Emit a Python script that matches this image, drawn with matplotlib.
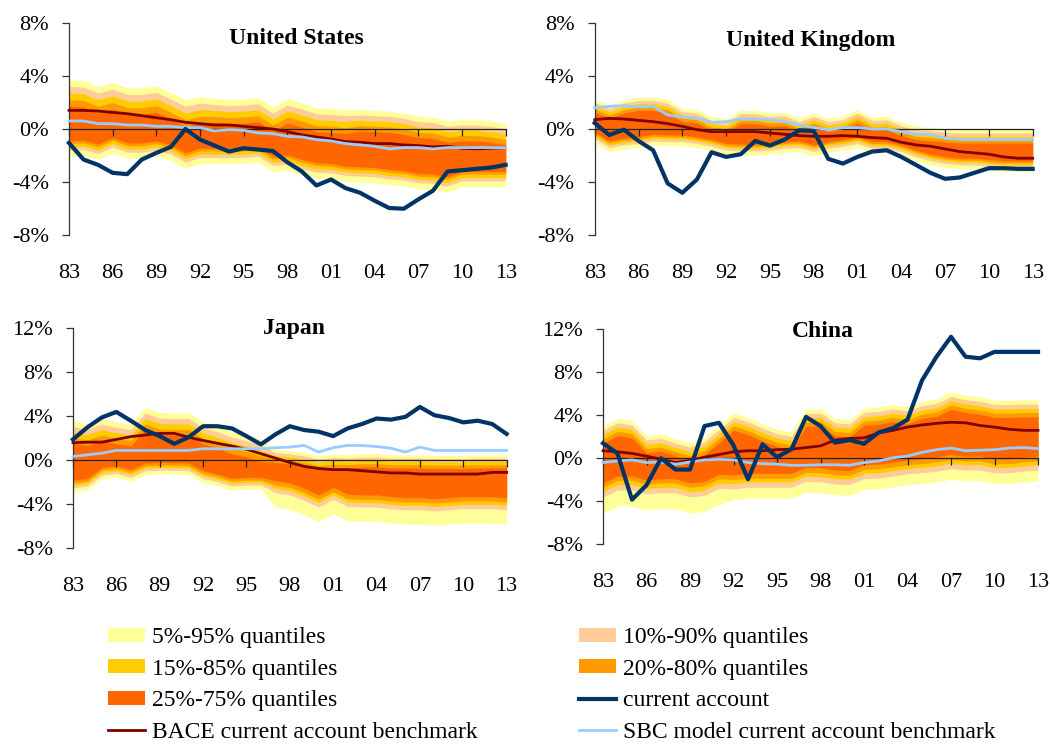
import matplotlib
matplotlib.use("Agg")
import matplotlib.pyplot as plt
from matplotlib.patches import Patch
from matplotlib.lines import Line2D
from matplotlib.ticker import FuncFormatter

plt.rcParams["font.family"] = ["Liberation Serif", "DejaVu Serif"]

# YEARS AND TICKS

years = list(range(1983, 2014))
xtick_years = list(range(1983, 2014, 3))
xtick_labels = ["83", "86", "89", "92", "95", "98", "01", "04", "07", "10", "13"]

# UNITED STATES (% of GDP)

us_ca = [-1.05, -2.3, -2.7, -3.3, -3.4, -2.3, -1.8, -1.35, 0.0, -0.8,
         -1.25, -1.7, -1.45, -1.55, -1.65, -2.5, -3.2, -4.25, -3.8, -4.45,
         -4.8, -5.4, -5.95, -6.0, -5.3, -4.65, -3.2, -3.1, -3.0, -2.9, -2.7]
us_bace = [1.4, 1.4, 1.35, 1.25, 1.15, 1.0, 0.85, 0.7, 0.5, 0.4,
           0.3, 0.3, 0.2, 0.1, 0.0, -0.2, -0.45, -0.6, -0.75, -0.95,
           -1.0, -1.1, -1.1, -1.2, -1.25, -1.35, -1.3, -1.45, -1.5, -1.45, -1.4]
us_sbc = [0.6, 0.6, 0.4, 0.4, 0.3, 0.3, 0.2, 0.2, 0.1, 0.1,
          -0.15, -0.05, -0.1, -0.3, -0.35, -0.55, -0.6, -0.8, -0.9, -1.1,
          -1.2, -1.3, -1.5, -1.4, -1.4, -1.5, -1.4, -1.4, -1.4, -1.4, -1.4]
us_q95 = [3.7, 3.65, 3.2, 3.5, 3.1, 3.1, 3.25, 2.75, 2.2, 2.45,
          2.3, 2.2, 2.25, 2.35, 1.65, 2.25, 1.95, 1.6, 1.55, 1.45,
          1.45, 1.4, 1.35, 1.2, 0.95, 0.9, 0.6, 0.7, 0.7, 0.6, 0.4]
us_q90 = [3.2, 3.15, 2.7, 3.0, 2.6, 2.6, 2.75, 2.25, 1.7, 1.95,
          1.85, 1.75, 1.8, 1.9, 1.2, 1.8, 1.5, 1.15, 1.1, 1.0,
          1.05, 1.0, 0.95, 0.8, 0.55, 0.5, 0.2, 0.3, 0.3, 0.2, 0.0]
us_q85 = [2.7, 2.65, 2.2, 2.5, 2.1, 2.1, 2.25, 1.75, 1.2, 1.45,
          1.4, 1.3, 1.35, 1.45, 0.75, 1.35, 1.05, 0.7, 0.65, 0.55,
          0.65, 0.6, 0.55, 0.4, 0.15, 0.1, -0.2, -0.1, -0.1, -0.2, -0.4]
us_q80 = [2.2, 2.15, 1.7, 2.0, 1.6, 1.6, 1.75, 1.25, 0.7, 0.95,
          0.95, 0.85, 0.9, 1.0, 0.3, 0.9, 0.6, 0.25, 0.2, 0.1,
          0.25, 0.2, 0.15, 0.0, -0.25, -0.3, -0.6, -0.5, -0.5, -0.6, -0.8]
us_q75 = [1.7, 1.65, 1.2, 1.5, 1.1, 1.1, 1.25, 0.75, 0.2, 0.45,
          0.5, 0.4, 0.45, 0.55, -0.15, 0.45, 0.15, -0.2, -0.25, -0.35,
          -0.15, -0.2, -0.25, -0.4, -0.65, -0.7, -1.0, -0.9, -0.9, -1.0, -1.2]
us_q25 = [-0.9, -0.85, -1.15, -0.65, -1.05, -1.05, -0.9, -1.2, -1.8, -1.45,
          -1.45, -1.45, -1.45, -1.35, -2.05, -1.95, -2.3, -2.55, -2.6, -2.8,
          -2.85, -2.9, -3.05, -3.15, -3.35, -3.4, -3.6, -3.2, -3.2, -3.2, -3.2]
us_q20 = [-1.1, -1.05, -1.35, -0.85, -1.25, -1.25, -1.1, -1.4, -2.0, -1.65,
          -1.65, -1.65, -1.65, -1.55, -2.25, -2.15, -2.5, -2.75, -2.8, -3.0,
          -3.05, -3.1, -3.25, -3.35, -3.55, -3.6, -3.8, -3.4, -3.4, -3.4, -3.4]
us_q15 = [-1.35, -1.3, -1.6, -1.1, -1.5, -1.5, -1.35, -1.65, -2.25, -1.9,
          -1.9, -1.9, -1.9, -1.8, -2.5, -2.4, -2.75, -3.0, -3.05, -3.25,
          -3.3, -3.35, -3.5, -3.6, -3.8, -3.85, -4.05, -3.65, -3.65, -3.65, -3.65]
us_q10 = [-1.6, -1.55, -1.85, -1.35, -1.75, -1.75, -1.6, -1.9, -2.5, -2.15,
          -2.15, -2.15, -2.15, -2.05, -2.75, -2.65, -3.0, -3.25, -3.3, -3.5,
          -3.55, -3.6, -3.75, -3.85, -4.05, -4.1, -4.3, -3.9, -3.9, -3.9, -3.9]
us_q05 = [-2.05, -2.0, -2.3, -1.8, -2.2, -2.2, -2.05, -2.35, -2.95, -2.6,
          -2.6, -2.6, -2.6, -2.5, -3.2, -3.1, -3.45, -3.7, -3.75, -3.95,
          -4.0, -4.05, -4.2, -4.3, -4.5, -4.55, -4.75, -4.35, -4.35, -4.35, -4.35]

# UNITED KINGDOM

uk_ca = [0.45, -0.45, -0.05, -0.9, -1.6, -4.1, -4.8, -3.8, -1.75, -2.1,
         -1.9, -0.9, -1.25, -0.8, -0.1, -0.15, -2.25, -2.6, -2.1, -1.7,
         -1.6, -2.1, -2.7, -3.3, -3.75, -3.65, -3.3, -2.95, -2.95, -3.0, -3.0]
uk_bace = [0.7, 0.8, 0.75, 0.65, 0.55, 0.4, 0.2, -0.05, -0.2, -0.2,
           -0.2, -0.2, -0.3, -0.4, -0.5, -0.55, -0.55, -0.5, -0.55, -0.65,
           -0.7, -1.0, -1.2, -1.3, -1.5, -1.7, -1.8, -1.9, -2.1, -2.2, -2.2]
uk_sbc = [1.6, 1.7, 1.75, 1.65, 1.7, 1.05, 0.9, 0.8, 0.5, 0.55,
          0.75, 0.75, 0.7, 0.55, 0.3, 0.1, -0.05, 0.1, 0.1, 0.0,
          0.0, -0.2, -0.4, -0.4, -0.7, -0.8, -0.8, -0.8, -0.8, -0.8, -0.8]
uk_q95 = [2.25, 1.8, 2.2, 2.4, 2.4, 2.2, 1.55, 1.45, 0.9, 0.75,
          1.4, 1.4, 1.2, 1.25, 0.8, 1.2, 0.8, 0.95, 1.45, 0.9,
          0.95, 0.5, 0.2, 0.12, 0.0, -0.05, -0.05, -0.05, -0.05, -0.05, -0.05]
uk_q90 = [2.0, 1.55, 1.95, 2.15, 2.15, 1.95, 1.3, 1.2, 0.65, 0.5,
          1.15, 1.15, 0.95, 1.0, 0.55, 0.95, 0.55, 0.7, 1.2, 0.65,
          0.7, 0.25, -0.05, -0.13, -0.25, -0.3, -0.3, -0.3, -0.3, -0.3, -0.3]
uk_q85 = [1.75, 1.3, 1.7, 1.9, 1.9, 1.7, 1.05, 0.95, 0.4, 0.25,
          0.9, 0.9, 0.7, 0.75, 0.3, 0.7, 0.3, 0.45, 0.95, 0.4,
          0.45, 0.0, -0.3, -0.38, -0.5, -0.55, -0.55, -0.55, -0.55, -0.55, -0.55]
uk_q80 = [1.5, 1.05, 1.45, 1.65, 1.65, 1.45, 0.8, 0.7, 0.15, 0.0,
          0.65, 0.65, 0.45, 0.5, 0.05, 0.45, 0.05, 0.2, 0.7, 0.15,
          0.2, -0.25, -0.55, -0.63, -0.75, -0.8, -0.8, -0.8, -0.8, -0.8, -0.8]
uk_q75 = [1.25, 0.8, 1.2, 1.4, 1.4, 1.2, 0.55, 0.45, -0.1, -0.25,
          0.4, 0.4, 0.2, 0.25, -0.2, 0.2, -0.2, -0.05, 0.45, -0.1,
          -0.05, -0.5, -0.8, -0.88, -1.0, -1.05, -1.05, -1.05, -1.05, -1.05, -1.05]
uk_q25 = [-0.25, -0.9, -0.7, -0.6, -0.4, -0.45, -0.45, -0.6, -0.8, -1.1,
          -1.15, -1.15, -1.1, -0.95, -0.9, -1.2, -0.95, -0.8, -0.6, -0.95,
          -0.95, -1.2, -1.6, -1.9, -2.1, -2.2, -2.2, -2.3, -2.4, -2.4, -2.4]
uk_q20 = [-0.4, -1.05, -0.85, -0.75, -0.55, -0.6, -0.6, -0.75, -0.95, -1.25,
          -1.3, -1.3, -1.25, -1.1, -1.05, -1.35, -1.1, -0.95, -0.75, -1.1,
          -1.1, -1.35, -1.75, -2.05, -2.25, -2.35, -2.35, -2.45, -2.55, -2.55, -2.55]
uk_q15 = [-0.55, -1.2, -1.0, -0.9, -0.7, -0.75, -0.75, -0.9, -1.1, -1.4,
          -1.45, -1.45, -1.4, -1.25, -1.2, -1.5, -1.25, -1.1, -0.9, -1.25,
          -1.25, -1.5, -1.9, -2.2, -2.4, -2.5, -2.5, -2.6, -2.7, -2.7, -2.7]
uk_q10 = [-0.75, -1.4, -1.2, -1.1, -0.9, -0.95, -0.95, -1.1, -1.3, -1.6,
          -1.65, -1.65, -1.6, -1.45, -1.4, -1.7, -1.45, -1.3, -1.1, -1.45,
          -1.45, -1.7, -2.1, -2.4, -2.6, -2.7, -2.7, -2.8, -2.9, -2.9, -2.9]
uk_q05 = [-1.05, -1.7, -1.5, -1.4, -1.2, -1.25, -1.25, -1.4, -1.6, -1.9,
          -1.95, -1.95, -1.9, -1.75, -1.7, -2.0, -1.75, -1.6, -1.4, -1.75,
          -1.75, -2.0, -2.4, -2.7, -2.9, -3.0, -3.0, -3.1, -3.2, -3.2, -3.2]

# JAPAN

jp_ca = [1.9, 3.0, 3.9, 4.4, 3.6, 2.75, 2.2, 1.5, 2.1, 3.1,
         3.1, 2.9, 2.2, 1.45, 2.35, 3.1, 2.75, 2.6, 2.2, 2.9,
         3.3, 3.8, 3.7, 3.95, 4.85, 4.1, 3.85, 3.45, 3.6, 3.3, 2.4]
jp_bace = [1.6, 1.65, 1.65, 1.9, 2.15, 2.3, 2.45, 2.45, 2.1, 1.8,
           1.55, 1.3, 1.0, 0.6, 0.2, -0.2, -0.55, -0.75, -0.85, -0.85,
           -0.95, -1.05, -1.15, -1.15, -1.25, -1.25, -1.25, -1.25, -1.25, -1.1, -1.1]
jp_sbc = [0.35, 0.5, 0.65, 0.9, 0.9, 0.9, 0.9, 0.9, 0.9, 1.05,
          1.05, 1.05, 1.05, 1.05, 1.15, 1.2, 1.35, 0.75, 1.15, 1.35,
          1.35, 1.25, 1.1, 0.75, 1.2, 0.9, 0.9, 0.9, 0.9, 0.9, 0.9]
jp_q95 = [3.55, 3.35, 3.8, 3.5, 3.3, 4.8, 4.35, 4.3, 4.3, 3.5,
          3.1, 2.6, 2.3, 1.9, 1.0, 0.9, 0.7, 0.4, 0.55, 0.5,
          0.6, 0.6, 0.5, 0.5, 0.5, 0.45, 0.45, 0.45, 0.5, 0.5, 0.5]
jp_q90 = [3.05, 2.85, 3.3, 3.0, 2.8, 4.3, 3.85, 3.8, 3.8, 3.0,
          2.6, 2.1, 1.8, 1.4, 0.7, 0.6, 0.4, 0.1, 0.25, 0.2,
          0.3, 0.3, 0.2, 0.2, 0.2, 0.15, 0.15, 0.15, 0.2, 0.2, 0.2]
jp_q85 = [2.55, 2.35, 2.8, 2.5, 2.3, 3.8, 3.35, 3.3, 3.3, 2.5,
          2.1, 1.6, 1.3, 0.9, 0.4, 0.3, 0.1, -0.2, -0.05, -0.1,
          0.0, 0.0, -0.1, -0.1, -0.1, -0.15, -0.15, -0.15, -0.1, -0.1, -0.1]
jp_q80 = [2.05, 1.85, 2.3, 2.0, 1.8, 3.3, 2.85, 2.8, 2.8, 2.0,
          1.6, 1.1, 0.8, 0.4, 0.1, 0.0, -0.2, -0.5, -0.35, -0.4,
          -0.3, -0.3, -0.4, -0.4, -0.4, -0.45, -0.45, -0.45, -0.4, -0.4, -0.4]
jp_q75 = [1.55, 1.35, 1.8, 1.5, 1.3, 2.8, 2.35, 2.3, 2.3, 1.5,
          1.1, 0.6, 0.3, -0.1, -0.2, -0.3, -0.5, -0.8, -0.65, -0.7,
          -0.6, -0.6, -0.7, -0.7, -0.7, -0.75, -0.75, -0.75, -0.7, -0.7, -0.7]
jp_q25 = [-1.8, -1.65, -0.65, -0.5, -0.85, -0.25, -0.2, -0.2, -0.25, -0.95,
          -1.25, -1.65, -1.55, -1.55, -1.85, -2.05, -2.55, -3.15, -2.45, -3.1,
          -3.15, -3.15, -3.3, -3.4, -3.4, -3.5, -3.4, -3.3, -3.3, -3.3, -3.4]
jp_q20 = [-2.05, -1.9, -0.9, -0.75, -1.1, -0.5, -0.45, -0.45, -0.5, -1.2,
          -1.5, -1.9, -1.8, -1.8, -2.25, -2.45, -2.95, -3.55, -2.85, -3.5,
          -3.55, -3.55, -3.7, -3.8, -3.8, -3.9, -3.8, -3.7, -3.7, -3.7, -3.8]
jp_q15 = [-2.25, -2.1, -1.1, -0.95, -1.3, -0.7, -0.65, -0.65, -0.7, -1.4,
          -1.7, -2.1, -2.0, -2.0, -2.55, -2.75, -3.25, -3.85, -3.15, -3.8,
          -3.85, -3.85, -4.0, -4.1, -4.1, -4.2, -4.1, -4.0, -4.0, -4.0, -4.1]
jp_q10 = [-2.5, -2.35, -1.35, -1.2, -1.55, -0.95, -0.9, -0.9, -0.95, -1.65,
          -1.95, -2.35, -2.25, -2.25, -2.95, -3.15, -3.65, -4.25, -3.55, -4.2,
          -4.25, -4.25, -4.4, -4.5, -4.5, -4.6, -4.5, -4.4, -4.4, -4.4, -4.5]
jp_q05 = [-2.85, -2.7, -1.7, -1.55, -1.9, -1.3, -1.25, -1.25, -1.3, -2.0,
          -2.3, -2.7, -2.6, -2.6, -4.25, -4.45, -4.95, -5.55, -4.85, -5.5,
          -5.55, -5.55, -5.7, -5.8, -5.8, -5.9, -5.8, -5.7, -5.7, -5.7, -5.8]

# CHINA

cn_ca = [1.4, 0.45, -3.85, -2.5, 0.0, -1.05, -1.05, 3.0, 3.3, 1.2,
         -1.95, 1.3, 0.1, 0.85, 3.85, 3.0, 1.45, 1.7, 1.35, 2.4,
         2.8, 3.6, 7.25, 9.45, 11.3, 9.45, 9.3, 9.9, 9.9, 9.9, 9.9]
cn_bace = [0.7, 0.6, 0.45, 0.2, -0.1, -0.4, -0.2, 0.1, 0.35, 0.6,
           0.7, 0.7, 0.8, 0.85, 1.0, 1.15, 1.7, 1.85, 1.9, 2.35,
           2.6, 2.9, 3.1, 3.25, 3.35, 3.3, 3.05, 2.9, 2.7, 2.6, 2.6]
cn_sbc = [-0.4, -0.25, -0.15, -0.4, -0.35, -0.55, -0.35, -0.15, -0.1, -0.15,
          -0.4, -0.5, -0.55, -0.65, -0.65, -0.6, -0.6, -0.65, -0.4, -0.25,
          0.05, 0.2, 0.55, 0.8, 0.95, 0.7, 0.75, 0.8, 0.95, 1.0, 0.9]
cn_q95 = [3.0, 3.7, 3.5, 2.1, 2.25, 1.8, 1.45, 1.95, 3.05, 4.2,
          3.8, 3.2, 2.7, 2.45, 4.55, 4.6, 3.7, 3.6, 4.65, 4.75,
          5.0, 4.8, 5.3, 5.5, 6.15, 5.85, 5.7, 5.4, 5.4, 5.45, 5.45]
cn_q90 = [2.6, 3.3, 3.1, 1.7, 1.85, 1.4, 1.05, 1.55, 2.65, 3.8,
          3.4, 2.8, 2.3, 2.05, 4.15, 4.2, 3.3, 3.2, 4.25, 4.35,
          4.6, 4.4, 4.9, 5.1, 5.75, 5.45, 5.3, 5.0, 5.0, 5.05, 5.05]
cn_q85 = [2.2, 2.9, 2.7, 1.3, 1.45, 1.0, 0.65, 1.15, 2.25, 3.4,
          3.0, 2.4, 1.9, 1.65, 3.75, 3.8, 2.9, 2.8, 3.85, 3.95,
          4.2, 4.0, 4.5, 4.7, 5.35, 5.05, 4.9, 4.6, 4.6, 4.65, 4.65]
cn_q80 = [1.8, 2.5, 2.3, 0.9, 1.05, 0.6, 0.25, 0.75, 1.85, 3.0,
          2.6, 2.0, 1.5, 1.25, 3.35, 3.4, 2.5, 2.4, 3.45, 3.55,
          3.8, 3.6, 4.1, 4.3, 4.95, 4.65, 4.5, 4.2, 4.2, 4.25, 4.25]
cn_q75 = [1.4, 2.1, 1.9, 0.5, 0.65, 0.2, -0.15, 0.35, 1.45, 2.6,
          2.2, 1.6, 1.1, 0.85, 2.95, 3.0, 2.1, 2.0, 3.05, 3.15,
          3.4, 3.2, 3.7, 3.9, 4.55, 4.25, 4.1, 3.8, 3.8, 3.85, 3.85]
cn_q25 = [-2.3, -1.65, -1.65, -2.0, -1.9, -1.9, -2.3, -2.15, -1.5, -1.55,
          -1.4, -1.4, -1.4, -1.4, -0.85, -0.9, -1.1, -1.15, -0.6, -0.55,
          -0.35, -0.15, -0.05, 0.1, 0.35, 0.2, 0.2, -0.05, -0.05, 0.1, 0.2]
cn_q20 = [-2.7, -2.05, -2.05, -2.4, -2.3, -2.3, -2.7, -2.55, -1.9, -2.0,
          -1.85, -1.85, -1.85, -1.85, -1.3, -1.35, -1.55, -1.6, -1.05, -1.0,
          -0.8, -0.6, -0.5, -0.35, -0.1, -0.25, -0.25, -0.5, -0.5, -0.35, -0.25]
cn_q15 = [-3.1, -2.45, -2.45, -2.8, -2.7, -2.7, -3.1, -2.95, -2.3, -2.35,
          -2.2, -2.2, -2.2, -2.2, -1.65, -1.7, -1.9, -1.95, -1.4, -1.35,
          -1.15, -0.95, -0.85, -0.7, -0.45, -0.6, -0.6, -0.85, -0.85, -0.7, -0.6]
cn_q10 = [-3.6, -2.95, -2.95, -3.3, -3.2, -3.2, -3.6, -3.45, -2.8, -2.85,
          -2.7, -2.7, -2.7, -2.7, -2.15, -2.2, -2.4, -2.45, -1.9, -1.85,
          -1.65, -1.45, -1.35, -1.2, -0.95, -1.1, -1.1, -1.35, -1.35, -1.2, -1.1]
cn_q05 = [-5.1, -4.45, -4.45, -4.8, -4.7, -4.7, -5.1, -4.95, -4.3, -3.85,
          -3.7, -3.7, -3.7, -3.7, -3.15, -3.2, -3.4, -3.45, -2.9, -2.85,
          -2.65, -2.45, -2.35, -2.2, -1.95, -2.1, -2.1, -2.35, -2.35, -2.2, -2.1]

# COLOURS

band_colors = ["#FFFF99", "#FFCC99", "#FFCC00", "#FF9900", "#FF6600"]
band_labels = ["5%-95% quantiles", "10%-90% quantiles", "15%-85% quantiles",
               "20%-80% quantiles", "25%-75% quantiles"]
ca_color = "#003366"
bace_color = "#800000"
sbc_color = "#99CCFF"

# PANELS: title, data, axes rect, y range, title position

panels = [
    ("United States",
     us_ca, us_bace, us_sbc,
     [(us_q05, us_q95), (us_q10, us_q90), (us_q15, us_q85), (us_q20, us_q80), (us_q25, us_q75)],
     [0.0657, 0.6846, 0.4159, 0.2850], (-8, 8), [-8, -4, 0, 4, 8], (0.52, 0.90)),
    ("United Kingdom",
     uk_ca, uk_bace, uk_sbc,
     [(uk_q05, uk_q95), (uk_q10, uk_q90), (uk_q15, uk_q85), (uk_q20, uk_q80), (uk_q25, uk_q75)],
     [0.5664, 0.6846, 0.4171, 0.2850], (-8, 8), [-8, -4, 0, 4, 8], (0.493, 0.892)),
    ("Japan",
     jp_ca, jp_bace, jp_sbc,
     [(jp_q05, jp_q95), (jp_q10, jp_q90), (jp_q15, jp_q85), (jp_q20, jp_q80), (jp_q25, jp_q75)],
     [0.0695, 0.2650, 0.4130, 0.2949], (-8, 12), [-8, -4, 0, 4, 8, 12], (0.51, 0.973)),
    ("China",
     cn_ca, cn_bace, cn_sbc,
     [(cn_q05, cn_q95), (cn_q10, cn_q90), (cn_q15, cn_q85), (cn_q20, cn_q80), (cn_q25, cn_q75)],
     [0.5743, 0.2704, 0.4143, 0.2882], (-8, 12), [-8, -4, 0, 4, 8, 12], (0.505, 0.966)),
]

fig = plt.figure(figsize=(10.5, 7.46), dpi=100)

pct = FuncFormatter(lambda v, p: "%d%%" % v)

for name, ca, bace, sbc, bands, rect, ylim, yticks, tpos in panels:

    ax = fig.add_axes(rect)

    # QUANTILE BANDS (outer first)
    for (lo, hi), col in zip(bands, band_colors):
        ax.fill_between(years, lo, hi, color=col, linewidth=0, zorder=1)

    # BENCHMARKS AND ACTUAL
    ax.plot(years, bace, color=bace_color, linewidth=2.0, zorder=3, clip_on=False)
    ax.plot(years, sbc, color=sbc_color, linewidth=2.0, zorder=3, clip_on=False)
    ax.plot(years, ca, color=ca_color, linewidth=3.0, zorder=4, clip_on=False)

    ax.set_xlim(1983, 2013)
    ax.set_ylim(*ylim)
    ax.set_yticks(yticks)
    ax.yaxis.set_major_formatter(pct)
    ax.set_xticks(xtick_years)
    ax.set_xticklabels(xtick_labels)

    for s in ["top", "right"]:
        ax.spines[s].set_visible(False)
    ax.spines["bottom"].set_position(("data", 0))
    ax.spines["bottom"].set_color("#222222")
    ax.spines["left"].set_color("#333333")
    ax.spines["bottom"].set_linewidth(0.9)
    ax.spines["left"].set_linewidth(0.9)

    # x labels sit below the plot area while the axis line stays at zero
    h_pt = rect[3] * 7.46 * 72
    pad = (0 - ylim[0]) / (ylim[1] - ylim[0]) * h_pt + 15.5

    ax.tick_params(axis="x", direction="out", length=5, width=0.9,
                   pad=pad, labelsize=16, colors="#222222", labelcolor="black")
    ax.tick_params(axis="y", direction="out", length=5, width=0.9,
                   pad=9.5, labelsize=16, colors="#333333", labelcolor="black")

    ax.text(tpos[0], tpos[1], name, transform=ax.transAxes, ha="center",
            va="baseline", fontsize=17, fontweight="bold")

# LEGEND

handles = [Patch(facecolor=c, edgecolor="none") for c in band_colors]
line_ca = Line2D([], [], color=ca_color, linewidth=3.0)
line_bace = Line2D([], [], color=bace_color, linewidth=2.0)
line_sbc = Line2D([], [], color=sbc_color, linewidth=2.0)

leg_handles = [handles[0], handles[2], handles[4], line_bace,
               handles[1], handles[3], line_ca, line_sbc]
leg_labels = [band_labels[0], band_labels[2], band_labels[4], "BACE current account benchmark",
              band_labels[1], band_labels[3], "current account", "SBC model current account benchmark"]

fig.legend(leg_handles, leg_labels, loc="upper left",
           bbox_to_anchor=(108 / 1050, 1 - 627 / 746), ncol=2, frameon=False,
           fontsize=17, handlelength=1.57, handleheight=0.55, handletextpad=0.28,
           columnspacing=4.3, labelspacing=0.45, borderaxespad=0, borderpad=0)

fig.savefig("out.png", dpi=100)
